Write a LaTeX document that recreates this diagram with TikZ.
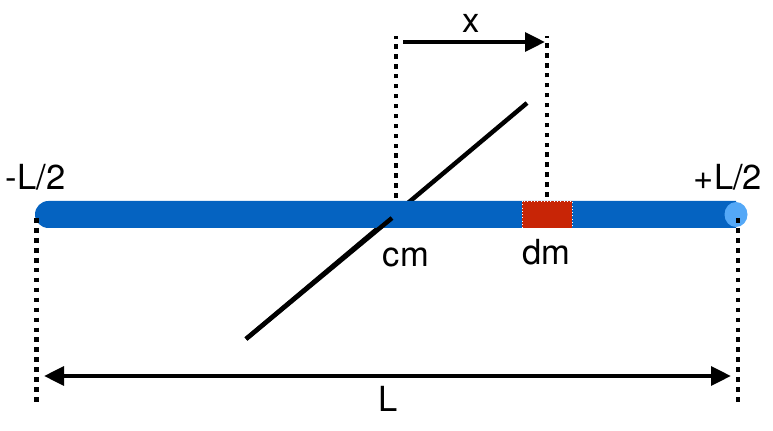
\documentclass[tikz,border=0pt]{standalone}
\usepackage{fontspec}
\setmainfont{TeX Gyre Heros}
\usetikzlibrary{arrows.meta}
\definecolor{rodblue}{RGB}{5,99,193}
\definecolor{capblue}{RGB}{84,168,247}
\definecolor{dmred}{RGB}{200,37,6}
\tikzset{
	lbl/.style={anchor=base,inner sep=0pt,font=\fontsize{29.5}{35}\selectfont},
	guide/.style={line width=4.2pt,dash pattern=on 4pt off 4.5pt},
	axis/.style={line width=3.8pt},
	dim/.style={line width=3.7pt,-{Triangle[length=0.6cm,width=0.56cm]}}
}
\begin{document}
\begin{tikzpicture}[x=0.03cm,y=-0.03cm]
	\useasboundingbox (0,0) rectangle (773,431);
	
	% Points on the rod
	\coordinate (lend) at (36.5,218);
	\coordinate (rend) at (738,218);
	\coordinate (cm) at (396,198);
	\coordinate (dm) at (547,197);
	\coordinate (axtop) at (527,103);
	\coordinate (axbot) at (246,339);
	\coordinate (axmid) at (392,218);
	
	% Axis behind the rod
	\draw[axis] (axbot) -- (axtop);
	
	% Rod
	\fill[rodblue] (736,201) -- (48.5,201) arc (270:90:13.5) -- (736,228) -- cycle;
	\fill[capblue] (736,214.5) ellipse (11.5 and 12.5);
	\filldraw[fill=dmred,draw=white,line width=0.8pt,dotted] (522,201) rectangle (572,228); % dm
	
	% Axis in front of the rod
	\draw[axis] (axbot) -- (axmid);
	
	% Dotted guides
	\draw[guide] (cm) -- (396,36);
	\draw[guide] (dm) -- (547,36);
	\draw[guide] (lend) -- (36.5,402);
	\draw[guide] (rend) -- (738,402);
	
	% Arrows
	\coordinate (xa) at (403,42);
	\coordinate (xb) at (545,42);
	\draw[dim] (xa) -- (xb);
	\coordinate (La) at (44,376);
	\coordinate (Lb) at (731,376);
	\draw[dim,{Triangle[length=0.6cm,width=0.56cm]}-{Triangle[length=0.6cm,width=0.56cm]}] (La) -- (Lb);
	
	% Labels
	\node[lbl] (xlbl) at (471,33) {x};
	\node[lbl] (llft) at (35.5,190) {-L/2};
	\node[lbl] (lrgt) at (728,190) {+L/2};
	\node[lbl] (cmlbl) at (406,267) {cm};
	\node[lbl] (dmlbl) at (546.5,265) {dm};
	\node[lbl] (Llbl) at (388.5,412) {L};
	
\end{tikzpicture}
\end{document}
